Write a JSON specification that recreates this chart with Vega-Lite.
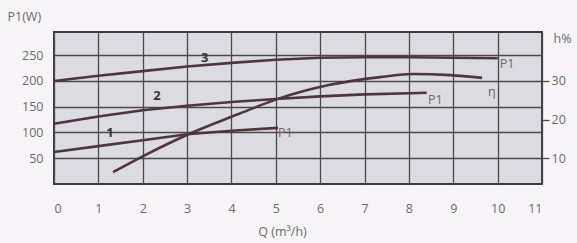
{
  "$schema": "https://vega.github.io/schema/vega-lite/v6.json",
  "width": 488,
  "height": 152,
  "autosize": "none",
  "padding": {"left": 54, "top": 32, "right": 35, "bottom": 59},
  "background": "#f6f4f6",
  "title": {"text": "Q (m³/h)", "frame": "group", "anchor": "middle", "offset": 29, "dx": -8, "fontSize": 13, "font": "Open Sans", "fontWeight": "normal", "color": "#6a6a6a", "baseline": "bottom"},
  "config": {
    "view": {"fill": "#dcdbe1", "stroke": "#3d3d3d", "strokeWidth": 2},
    "font": "Open Sans",
    "axis": {"labelFont": "Open Sans", "titleFont": "Open Sans", "labelColor": "#6a6a6a", "titleColor": "#6a6a6a", "labelFontSize": 12.5, "titleFontSize": 12.5, "titleFontWeight": "normal"},
    "axisX": {"values": [0, 1, 2, 3, 4, 5, 6, 7, 8, 9, 10, 11], "grid": true, "gridColor": "#4a4a4a", "gridWidth": 1.3, "gridOpacity": 1, "ticks": false, "domain": false, "labelPadding": 18, "titleX": 228, "titleY": 47, "titleBaseline": "middle", "titleAlign": "center"}
  },
  "datasets": {
    "power": [
      {"curve": "3", "Q": 0, "P": 200}, {"curve": "3", "Q": 1, "P": 210}, {"curve": "3", "Q": 2, "P": 219},
      {"curve": "3", "Q": 3, "P": 228}, {"curve": "3", "Q": 4, "P": 235}, {"curve": "3", "Q": 5, "P": 241},
      {"curve": "3", "Q": 6, "P": 245}, {"curve": "3", "Q": 7, "P": 246}, {"curve": "3", "Q": 8, "P": 246},
      {"curve": "3", "Q": 9, "P": 245}, {"curve": "3", "Q": 10, "P": 244},
      {"curve": "2", "Q": 0, "P": 117}, {"curve": "2", "Q": 1, "P": 131}, {"curve": "2", "Q": 2, "P": 143},
      {"curve": "2", "Q": 3, "P": 152}, {"curve": "2", "Q": 4, "P": 159}, {"curve": "2", "Q": 5, "P": 165},
      {"curve": "2", "Q": 6, "P": 170}, {"curve": "2", "Q": 7, "P": 174}, {"curve": "2", "Q": 8, "P": 176},
      {"curve": "2", "Q": 8.4, "P": 177},
      {"curve": "1", "Q": 0, "P": 62}, {"curve": "1", "Q": 1, "P": 73.5}, {"curve": "1", "Q": 2, "P": 85},
      {"curve": "1", "Q": 3, "P": 96.5}, {"curve": "1", "Q": 4, "P": 103.5}, {"curve": "1", "Q": 5.05, "P": 109}
    ],
    "eff": [
      {"Q": 1.33, "eta": 6.4}, {"Q": 2.0, "eta": 10.5}, {"Q": 3.07, "eta": 16.4}, {"Q": 4.13, "eta": 21.3},
      {"Q": 5.03, "eta": 25.3}, {"Q": 6.22, "eta": 29.0}, {"Q": 7.35, "eta": 31.0}, {"Q": 8.09, "eta": 31.8},
      {"Q": 8.93, "eta": 31.5}, {"Q": 9.65, "eta": 30.8}
    ],
    "numlabels": [
      {"text": "3", "Q": 3.4, "P": 244.5},
      {"text": "2", "Q": 2.32, "P": 171},
      {"text": "1", "Q": 1.26, "P": 99}
    ],
    "seriesLabels": [
      {"text": "P1", "Q": 5.05, "P": 99},
      {"text": "P1", "Q": 8.43, "P": 163},
      {"text": "P1", "Q": 10.05, "P": 233},
      {"text": "η", "Q": 9.78, "P": 178.5}
    ]
  },
  "layer": [
    {
      "data": {"name": "power"},
      "mark": {"type": "line", "color": "#4e3540", "strokeWidth": 2.6},
      "encoding": {
        "x": {"field": "Q", "type": "quantitative", "scale": {"domain": [0, 11], "nice": false}, "title": "Q (m³/h)"},
        "y": {"field": "P", "type": "quantitative", "scale": {"domain": [0, 295], "nice": false, "zero": false},
          "axis": {"values": [50, 100, 150, 200, 250], "grid": true, "gridColor": "#4a4a4a", "gridWidth": 1.3, "gridOpacity": 1,
            "ticks": false, "domain": false, "labelPadding": 11, "title": "P1(W)", "titleAngle": 0, "titleX": -47, "titleY": -16, "titleAlign": "left", "titleBaseline": "middle"}},
        "detail": {"field": "curve", "type": "nominal"}
      }
    },
    {
      "data": {"name": "numlabels"},
      "mark": {"type": "text", "fontWeight": "bold", "fontSize": 13, "color": "#3e2f35", "baseline": "middle", "align": "center"},
      "encoding": {
        "x": {"field": "Q", "type": "quantitative", "scale": {"domain": [0, 11], "nice": false}, "title": "Q (m³/h)"},
        "y": {"field": "P", "type": "quantitative", "scale": {"domain": [0, 295], "nice": false, "zero": false}, "axis": null},
        "text": {"field": "text"}
      }
    },
    {
      "data": {"name": "seriesLabels"},
      "mark": {"type": "text", "fontSize": 12.5, "color": "#6a6a6a", "baseline": "middle", "align": "left"},
      "encoding": {
        "x": {"field": "Q", "type": "quantitative", "scale": {"domain": [0, 11], "nice": false}, "title": "Q (m³/h)"},
        "y": {"field": "P", "type": "quantitative", "scale": {"domain": [0, 295], "nice": false, "zero": false}, "axis": null},
        "text": {"field": "text"}
      }
    },
    {
      "data": {"name": "eff"},
      "mark": {"type": "line", "color": "#4e3540", "strokeWidth": 2.6, "interpolate": "monotone"},
      "encoding": {
        "x": {"field": "Q", "type": "quantitative", "scale": {"domain": [0, 11], "nice": false}, "title": "Q (m³/h)"},
        "y": {"field": "eta", "type": "quantitative", "scale": {"domain": [3.3333, 42.6667], "nice": false, "zero": false},
          "axis": {"orient": "right", "values": [10, 20, 30], "grid": false, "ticks": true, "tickSize": 7, "tickColor": "#4a4a4a", "tickWidth": 1.3,
            "domain": false, "labelPadding": 2, "title": "h%", "titleAngle": 0, "titleX": 11, "titleY": 6, "titleAlign": "left", "titleBaseline": "middle"}}
      }
    }
  ],
  "resolve": {"scale": {"y": "independent", "x": "shared"}}
}
